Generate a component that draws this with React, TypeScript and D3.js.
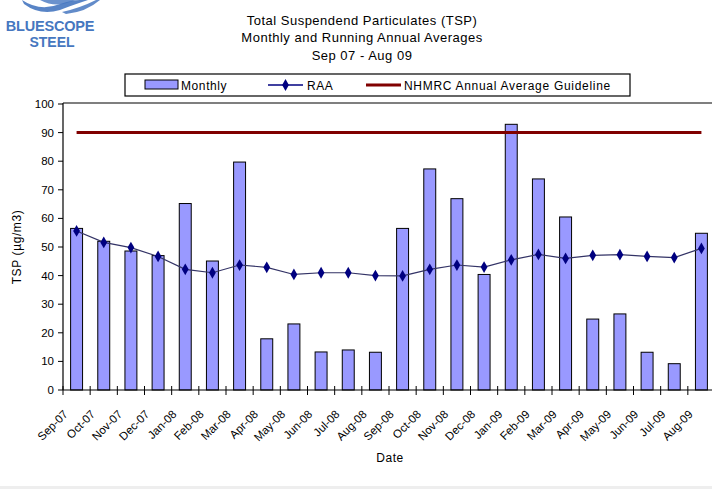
import React from "react";
import * as d3 from "d3";

const months = [
  "Sep-07","Oct-07","Nov-07","Dec-07","Jan-08","Feb-08","Mar-08","Apr-08","May-08","Jun-08","Jul-08","Aug-08",
  "Sep-08","Oct-08","Nov-08","Dec-08","Jan-09","Feb-09","Mar-09","Apr-09","May-09","Jun-09","Jul-09","Aug-09",
];
const monthly = [56.5, 52, 48.6, 47, 65.2, 45.1, 79.7, 17.9, 23.1, 13.3, 14.0, 13.2,
  56.5, 77.3, 66.9, 40.4, 92.9, 73.8, 60.5, 24.8, 26.6, 13.2, 9.2, 54.8];
const raa = [55.6, 51.6, 49.8, 46.7, 42.2, 41.0, 43.7, 42.9, 40.4, 41.0, 41.0, 40.0,
  39.9, 42.2, 43.7, 43.0, 45.5, 47.4, 46.0, 47.1, 47.3, 46.7, 46.3, 49.5];
const guideline = 90;
const yTicks = [0, 10, 20, 30, 40, 50, 60, 70, 80, 90, 100];
const titleLines = [
  "Total Suspendend Particulates (TSP)",
  "Monthly and Running Annual Averages",
  "Sep 07 - Aug 09",
];

const FONT = "'Liberation Sans', Arial, sans-serif";

export default function App() {
  const W = 712, H = 489;
  const left = 63, right = 715, top = 104, bottom = 390;
  const x = d3.scaleBand<string>().domain(months).range([left, right]).paddingInner(0.56).paddingOuter(0.28);
  const y = d3.scaleLinear().domain([0, 100]).range([bottom, top]);
  const step = x.step();
  const cx = (m: string) => (x(m) as number) + x.bandwidth() / 2;
  const line = d3.line<number>().x((_, i) => cx(months[i])).y((d) => y(d));
  const diamond = d3.symbol().type(d3.symbolDiamond).size(40)();

  return (
    <svg width={W} height={H} style={{ position: "absolute", left: 0, top: 0, background: "#fff" }} fontFamily={FONT}>
      <rect x={0} y={0} width={W} height={H} fill="#fff" />
      <rect x={0} y={486} width={W} height={3} fill="#eeeeee" />
      {/* logo */}
      <g fill="#4677c0">
        <path d="M22,0 Q40,12 60,4 Q72,0 80,0 L88,0 Q70,6 60,10 Q40,16 24,4 Z" opacity={0.9} />
        <path d="M40,0 Q55,8 70,2 L76,0 Z" opacity={0.8} />
        <path d="M62,12 Q80,8 96,0 L100,0 Q86,12 66,14 Z" opacity={0.85} />
        <text x={50} y={31} textAnchor="middle" fontSize={14.5} fontWeight="bold" letterSpacing={-0.2}>BLUESCOPE</text>
        <text x={52} y={47} textAnchor="middle" fontSize={14} fontWeight="bold">STEEL</text>
      </g>
      {/* title */}
      {titleLines.map((t, i) => (
        <text key={t} x={362} y={24.5 + i * 17.5} textAnchor="middle" fontSize={13} letterSpacing={0.5}>{t}</text>
      ))}
      {/* legend */}
      <rect x={125} y={74} width={505} height={22} fill="#fff" stroke="#000" strokeWidth={1.2} />
      <rect x={145} y={80} width={33} height={9} fill="#9999ff" stroke="#000" strokeWidth={1} />
      <text x={181} y={89.5} fontSize={12} letterSpacing={0.6}>Monthly</text>
      <line x1={268} x2={303} y1={85} y2={85} stroke="#000080" strokeWidth={1.3} />
      <path d={diamond as string} transform="translate(285.5,85)" fill="#000080" />
      <text x={307} y={89.5} fontSize={12} letterSpacing={0.6}>RAA</text>
      <line x1={366} x2={401} y1={85} y2={85} stroke="#800000" strokeWidth={3} />
      <text x={404} y={89.5} fontSize={12} letterSpacing={0.7}>NHMRC Annual Average Guideline</text>
      {/* plot border top */}
      <line x1={left} x2={W} y1={top - 1} y2={top - 1} stroke="#000" strokeWidth={1.2} />
      {/* bars */}
      {monthly.map((v, i) => (
        <rect key={months[i]} x={x(months[i])} y={y(v)} width={x.bandwidth()} height={bottom - y(v)}
          fill="#9999ff" stroke="#000" strokeWidth={1} />
      ))}
      {/* guideline */}
      <line x1={cx(months[0])} x2={cx(months[months.length - 1])} y1={y(guideline)} y2={y(guideline)}
        stroke="#800000" strokeWidth={3} />
      {/* RAA */}
      <path d={line(raa) as string} fill="none" stroke="#333366" strokeWidth={1.2} />
      {raa.map((v, i) => (
        <path key={i} d={diamond as string} transform={`translate(${cx(months[i])},${y(v)})`} fill="#000080" />
      ))}
      {/* y axis */}
      <line x1={left} x2={left} y1={top - 1} y2={bottom} stroke="#000" strokeWidth={1.2} />
      {yTicks.map((t) => (
        <g key={t}>
          <line x1={left - 5} x2={left} y1={y(t)} y2={y(t)} stroke="#000" strokeWidth={1} />
          <text x={left - 9} y={y(t) + 4} textAnchor="end" fontSize={11.5}>{t}</text>
        </g>
      ))}
      <text transform={`translate(21,${(top + bottom) / 2}) rotate(-90)`} textAnchor="middle" fontSize={12} letterSpacing={0.6}>TSP (µg/m3)</text>
      {/* x axis */}
      <line x1={left} x2={W} y1={bottom} y2={bottom} stroke="#000" strokeWidth={1.2} />
      {d3.range(months.length + 1).map((i) => (
        <line key={i} x1={left + i * step} x2={left + i * step} y1={bottom - 4} y2={bottom + 5} stroke="#000" strokeWidth={1} />
      ))}
      {months.map((m) => (
        <text key={m} transform={`translate(${cx(m) - 8},${bottom + 25}) rotate(-45)`} textAnchor="end" fontSize={11.5}>{m}</text>
      ))}
      <text x={390} y={462} textAnchor="middle" fontSize={12} letterSpacing={0.5}>Date</text>
    </svg>
  );
}
